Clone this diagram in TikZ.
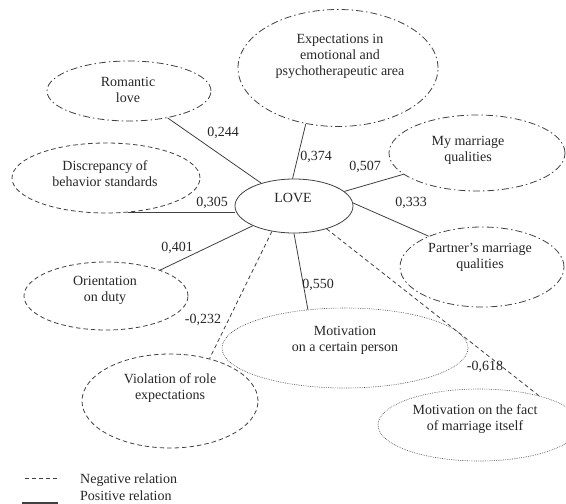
\documentclass[tikz,border=0pt]{standalone}
\usepackage{fontspec}
\setmainfont{Liberation Serif}
\usetikzlibrary{shapes.geometric}
\begin{document}
\begin{tikzpicture}[x=1pt,y=-1pt,
  every node/.style={font=\fontsize{14}{16}\selectfont, text=black!85},
  txt/.style={align=center, inner sep=0pt},
  lab/.style={inner sep=0pt, anchor=center},
  oval/.style={ellipse, draw=black!75, line width=0.8pt, inner sep=0pt},
  ddot/.style={oval, dash pattern=on 7pt off 3pt on 1.5pt off 3pt},
  dsh/.style={oval, dash pattern=on 4.5pt off 3pt},
  dott/.style={oval, dash pattern=on 0.7pt off 1.1pt, line width=0.6pt},
  posline/.style={draw=black!75, line width=0.8pt},
  negline/.style={draw=black!75, line width=0.8pt, dash pattern=on 4pt off 3pt},
]
\useasboundingbox (0,0) rectangle (566,504);

% ellipses
\node[oval, minimum width=118pt, minimum height=54pt] (love) at (294,206) {};
\node[txt] (lovet) at (293,198) {LOVE};

\node[ddot, minimum width=164pt, minimum height=60pt] (rom) at (129,91) {};
\node[txt] (romt) at (128,90) {Romantic\\love};

\node[dsh, minimum width=188pt, minimum height=70pt] (disc) at (106,178) {};
\node[txt] (disct) at (105,174) {Discrepancy of\\behavior standards};

\node[dsh, minimum width=164pt, minimum height=68pt] (ori) at (106,296) {};
\node[txt] (orit) at (105,290) {Orientation\\on duty};

\node[dsh, minimum width=176pt, minimum height=94pt] (viol) at (170,401) {};
\node[txt] (violt) at (170,388) {Violation of role\\expectations};

\node[ddot, minimum width=200pt, minimum height=117pt] (exp) at (338,68) {};
\node[txt] (expt) at (340,56) {Expectations in\\emotional and\\psychotherapeutic area};

\node[ddot, minimum width=176pt, minimum height=76pt] (my) at (477,153) {};
\node[txt] (myt) at (468,150) {My marriage\\qualities};

\node[ddot, minimum width=164pt, minimum height=80pt] (part) at (482,267) {};
\node[txt] (partt) at (480,257) {Partner's marriage\\qualities};

\node[dott, minimum width=246pt, minimum height=80pt] (motp) at (345,348) {};
\node[txt] (motpt) at (345,340) {Motivation\\on a certain person};

\node[dott, minimum width=202pt, minimum height=72pt] (motf) at (479,425) {};
\node[txt] (motft) at (475,419) {Motivation on the fact\\of marriage itself};

% connectors
\draw[posline] (love) -- (rom);
\draw[posline] (disc.-58) -- (love.west |- disc.-58);
\draw[posline] (love) -- (ori);
\draw[posline] (love.93) -- (exp.-120);
\draw[posline] (love) -- (my);
\draw[posline] (love.3) -- (part.150);
\draw[posline] (love.south) -- (motp.134);
\draw[negline] (love.-131) -- (viol.47);
\draw[negline] (love.-35) -- (motf.26);

% labels
\node[lab] (l1) at (223,133) {0,244};
\node[lab] (l2) at (316,157) {0,374};
\node[lab] (l3) at (365,167) {0,507};
\node[lab] (l4) at (212,203) {0,305};
\node[lab] (l5) at (411,203) {0,333};
\node[lab] (l6) at (177,248) {0,401};
\node[lab] (l7) at (318,285) {0,550};
\node[lab] (l8) at (203,320) {-0,232};
\node[lab] (l9) at (485,367) {-0,618};

% legend
\coordinate (na) at (25,478);
\coordinate (nb) at (60,478);
\coordinate (pa) at (22,503);
\coordinate (pb) at (58,503);
\draw[negline] (na) -- (nb);
\draw[posline, line width=1.4pt] (pa) -- (pb);
\node[anchor=west, inner sep=0pt] (negt) at (80,480) {Negative relation};
\node[anchor=west, inner sep=0pt] (post) at (80,496) {Positive relation};
\end{tikzpicture}
\end{document}
